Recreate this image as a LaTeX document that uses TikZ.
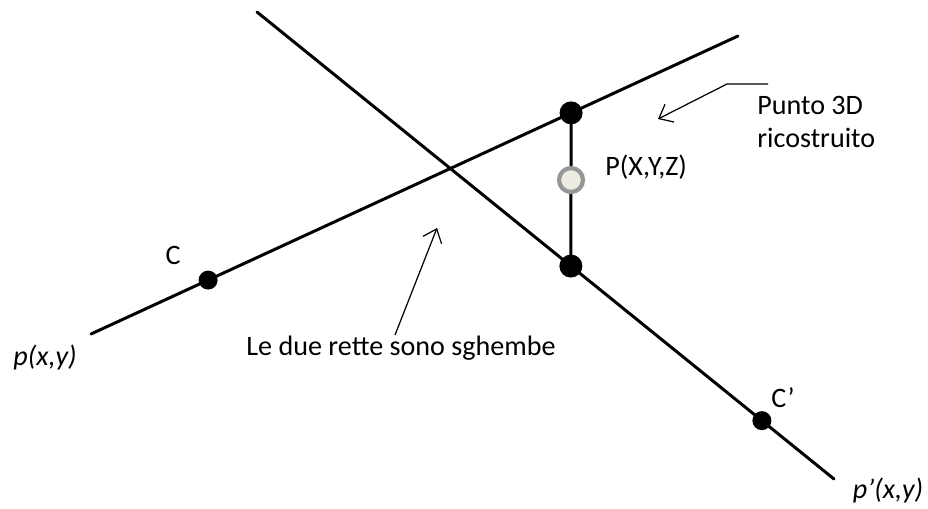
\documentclass[tikz,border=0pt]{standalone}
\usepackage{fontspec}
\setmainfont{Carlito}
\usetikzlibrary{arrows.meta}

\definecolor{ptfill}{RGB}{238,236,225}
\definecolor{ptring}{RGB}{150,150,148}

\tikzset{
  rayline/.style={line width=1.7pt, line cap=round},
  bigdot/.style={circle, fill=black, inner sep=0pt, minimum size=0.46cm},
  smalldot/.style={circle, fill=black, inner sep=0pt, minimum size=0.38cm},
  ptdot/.style={circle, fill=ptfill, draw=ptring, line width=2.4pt, inner sep=0pt, minimum size=0.48cm},
  pointer/.style={line width=0.7pt, -{Straight Barb[length=2.4mm, width=4mm]}},
  lbl/.style={font=\fontsize{16}{19}\selectfont, inner sep=0pt}
}

\begin{document}
\begin{tikzpicture}[x=0.02cm, y=-0.02cm]
    \useasboundingbox (0,0) rectangle (928,508);
    % the two rays
    \coordinate (ra) at (91,334);
    \coordinate (rb) at (738,36);
    \coordinate (sa) at (257,12);
    \coordinate (sb) at (834,479);
    \draw[rayline] (ra) -- (rb);
    \draw[rayline] (sa) -- (sb);
    \path (ra) -- (rb) node[pos=0.181, smalldot] (C) {} node[pos=0.742, bigdot] (top) {};
    \path (sa) -- (sb) node[pos=0.544, bigdot] (bot) {} node[pos=0.875, smalldot] (Cp) {};
    \draw[rayline] (top.center) -- (bot.center);
    \node[ptdot] (P) at (571,180) {};
    % labels
    \node[lbl] (lC) at (173,255) {C};
    \node[lbl] (lCp) at (783,398) {C’};
    \node[lbl, font=\fontsize{16}{19}\selectfont\itshape] (lp) at (45,357) {p(x,y)};
    \node[lbl, font=\fontsize{16}{19}\selectfont\itshape] (lpp) at (888,490) {p’(x,y)};
    \node[lbl, anchor=west] (lP) at (605,167) {P(X,Y,Z)};
    \node[lbl, anchor=west, align=left] (lpunto) at (757,122) {Punto 3D\\ricostruito};
    \node[lbl] (lrette) at (401,348) {Le due rette sono sghembe};
    % pointers
    \coordinate (k1) at (768,84);
    \coordinate (k2) at (727,84);
    \coordinate (t1) at (658,119);
    \draw[pointer] (k1) -- (k2) -- (t1);
    \coordinate (s1) at (395,335);
    \coordinate (t2) at (437,228);
    \draw[pointer] (s1) -- (t2);
\end{tikzpicture}
\end{document}
